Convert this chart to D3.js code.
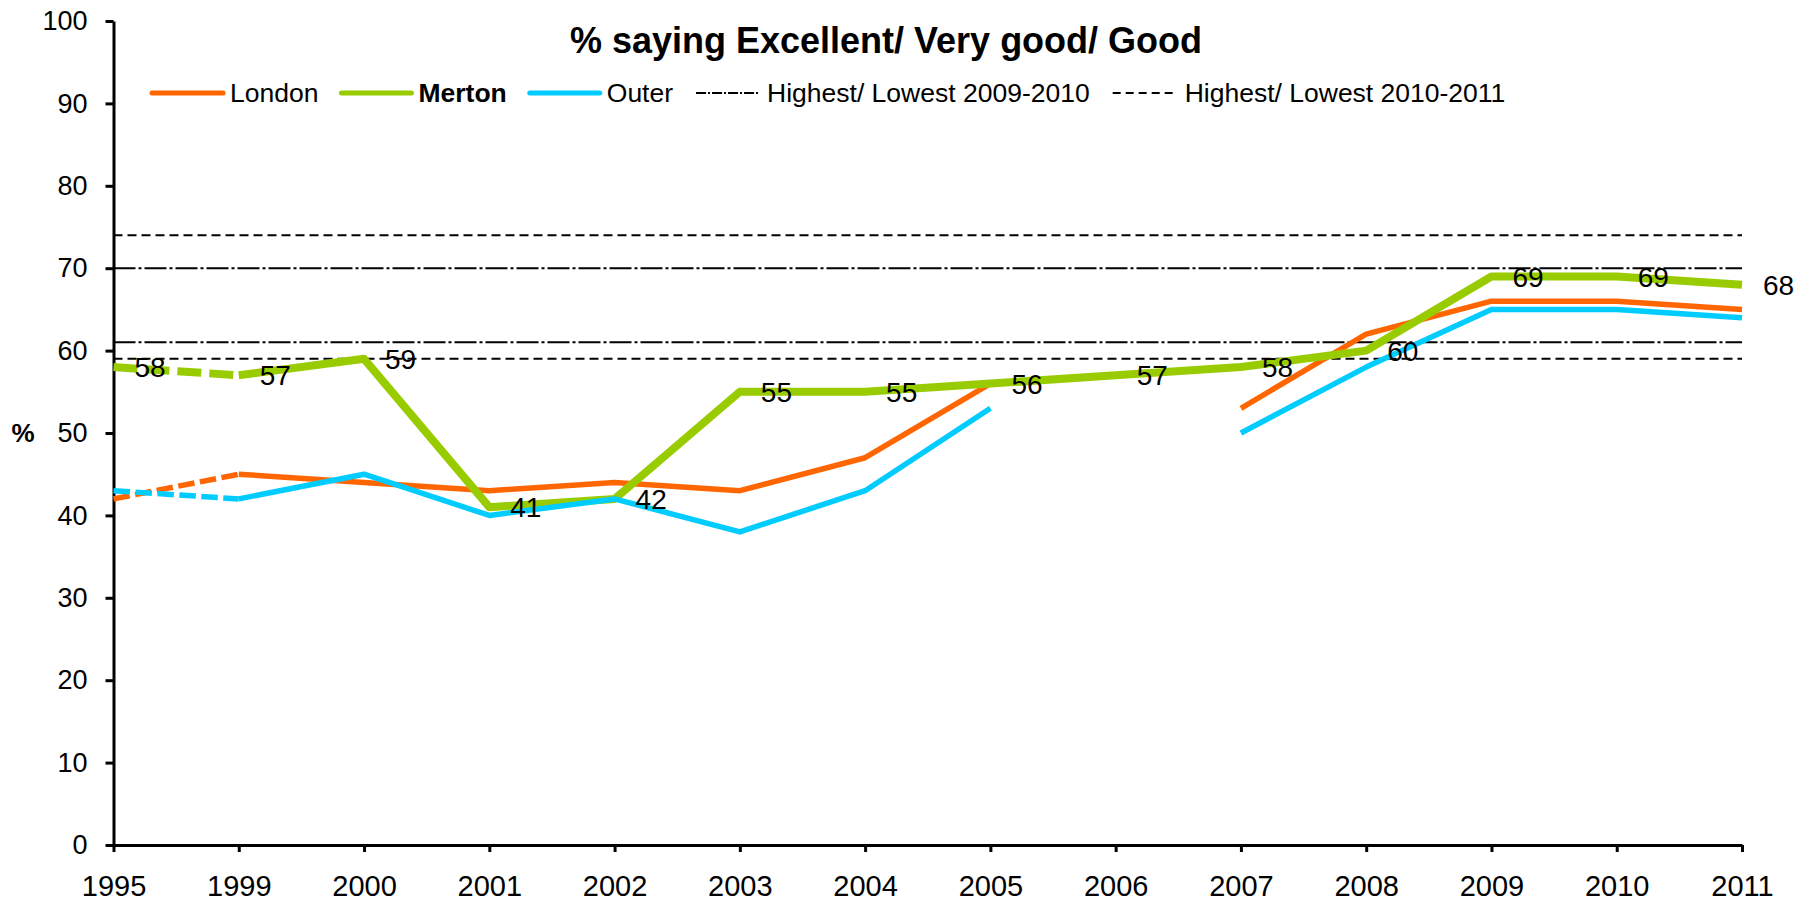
<!DOCTYPE html>
<html>
<head>
<meta charset="utf-8">
<script src="https://cdn.jsdelivr.net/npm/d3@7"></script>
<style>
  html, body { margin: 0; background: #fff; }
  svg { display: block; font-family: "Liberation Sans", Arial, Helvetica, sans-serif; }
</style>
</head>
<body>
<svg id="chart" width="1816" height="903"></svg>
<script>
// Survey years (1996-1998 not surveyed, so the first step is 1995 -> 1999)
const years = ["1995", "1999", "2000", "2001", "2002", "2003", "2004", "2005", "2006", "2007", "2008", "2009", "2010", "2011"];

// % saying Excellent / Very good / Good
const london = [42, 45, 44, 43, 44, 43, 47, 56, null, 53, 62, 66, 66, 65];
const merton = [58, 57, 59, 41, 42, 55, 55, 56, 57, 58, 60, 69, 69, 68];
const outer  = [43, 42, 45, 40, 42, 38, 43, 53, null, 50, 58, 65, 65, 64];

// Highest / lowest borough scores
const range0910 = [70, 61];
const range1011 = [74, 59];

const yTicks = [0, 10, 20, 30, 40, 50, 60, 70, 80, 90, 100];
const titleText = "% saying Excellent/ Very good/ Good";
const yAxisTitle = "%";

const colors = { London: "#FF6600", Merton: "#99CC00", Outer: "#00CCFF" };

const svg = d3.select("#chart");
const plotLeft = 113.5, plotRight = 1742, plotTop = 21, plotBottom = 845;

const x = d3.scalePoint().domain(years).range([plotLeft, plotRight]);
const y = d3.scaleLinear().domain([0, 100]).range([plotBottom, plotTop]);

// Reference lines
const refs = [
  ...range0910.map(v => ({ v, dash: "22,3,3,3" })),
  ...range1011.map(v => ({ v, dash: "9,5" }))
];
svg.append("g").selectAll("line").data(refs).join("line")
  .attr("x1", plotLeft).attr("x2", plotRight)
  .attr("y1", d => y(d.v)).attr("y2", d => y(d.v))
  .attr("stroke", "#000").attr("stroke-width", 2)
  .attr("stroke-dasharray", d => d.dash);

// Axes
const yAxis = svg.append("g").attr("transform", `translate(${plotLeft},0)`)
  .call(d3.axisLeft(y).tickValues(yTicks).tickSize(8).tickSizeOuter(0).tickPadding(18));
const xAxis = svg.append("g").attr("transform", `translate(0,${plotBottom})`)
  .call(d3.axisBottom(x).tickSize(7).tickSizeOuter(0).tickPadding(23));
[yAxis, xAxis].forEach(g => {
  g.attr("font-family", null);
  g.select(".domain").attr("stroke", "#000").attr("stroke-width", 3);
  g.selectAll(".tick line").attr("stroke", "#000").attr("stroke-width", 3);
  g.selectAll(".tick text").attr("fill", "#000");
});
yAxis.attr("font-size", 27);
xAxis.attr("font-size", 29);

// Series lines: first interval (1995 -> 1999) dashed, rest solid with gaps for missing years
const series = [
  { name: "London", values: london, width: 5.5 },
  { name: "Merton", values: merton, width: 8 },
  { name: "Outer",  values: outer,  width: 5.5 }
];
const line = d3.line()
  .defined(d => d.v != null)
  .x(d => x(d.yr)).y(d => y(d.v));

const linesG = svg.append("g").attr("fill", "none");
series.forEach(s => {
  const pts = years.map((yr, i) => ({ yr, v: s.values[i] }));
  linesG.append("path").datum(pts.slice(0, 2))
    .attr("d", line)
    .attr("stroke", colors[s.name]).attr("stroke-width", s.width)
    .attr("stroke-dasharray", `${s.width * 3},${s.width}`);
  linesG.append("path").datum(pts.slice(1))
    .attr("d", line)
    .attr("stroke", colors[s.name]).attr("stroke-width", s.width)
    .attr("stroke-linejoin", "round");
});

// Merton value labels
svg.append("g").selectAll("text").data(years.map((yr, i) => ({ yr, v: merton[i] }))).join("text")
  .attr("x", d => x(d.yr) + 21)
  .attr("y", d => y(d.v))
  .attr("dy", "0.36em")
  .attr("font-size", 28)
  .attr("fill", "#000")
  .text(d => d.v);

// Title
svg.append("text")
  .attr("x", 886).attr("y", 53)
  .attr("text-anchor", "middle")
  .attr("font-size", 36).attr("font-weight", "bold")
  .text(titleText);

// Y axis title
svg.append("text")
  .attr("x", 23).attr("y", y(50))
  .attr("dy", "0.36em")
  .attr("text-anchor", "middle")
  .attr("font-size", 26).attr("font-weight", "bold")
  .text(yAxisTitle);

// Legend
const legendItems = [
  { label: "London", color: colors.London, dash: null, len: 71, bold: false, width: 5 },
  { label: "Merton", color: colors.Merton, dash: null, len: 70, bold: true, width: 5 },
  { label: "Outer",  color: colors.Outer,  dash: null, len: 70, bold: false, width: 5 },
  { label: "Highest/ Lowest 2009-2010", color: "#000", dash: "10,2,2,2", len: 64, bold: false, width: 2 },
  { label: "Highest/ Lowest 2010-2011", color: "#000", dash: "8,5", len: 65, bold: false, width: 2 }
];
const legend = svg.append("g");
let lx = 152;
const ly = 93;
legendItems.forEach(item => {
  legend.append("line")
    .attr("x1", lx).attr("x2", lx + item.len)
    .attr("y1", ly).attr("y2", ly)
    .attr("stroke", item.color).attr("stroke-width", item.width)
    .attr("stroke-linecap", item.dash ? "butt" : "round")
    .attr("stroke-dasharray", item.dash);
  const t = legend.append("text")
    .attr("x", lx + item.len + 7).attr("y", ly + 9)
    .attr("font-size", 26.5)
    .attr("font-weight", item.bold ? "bold" : "normal")
    .text(item.label);
  lx += item.len + 7 + t.node().getComputedTextLength() + 23;
});
</script>
</body>
</html>
